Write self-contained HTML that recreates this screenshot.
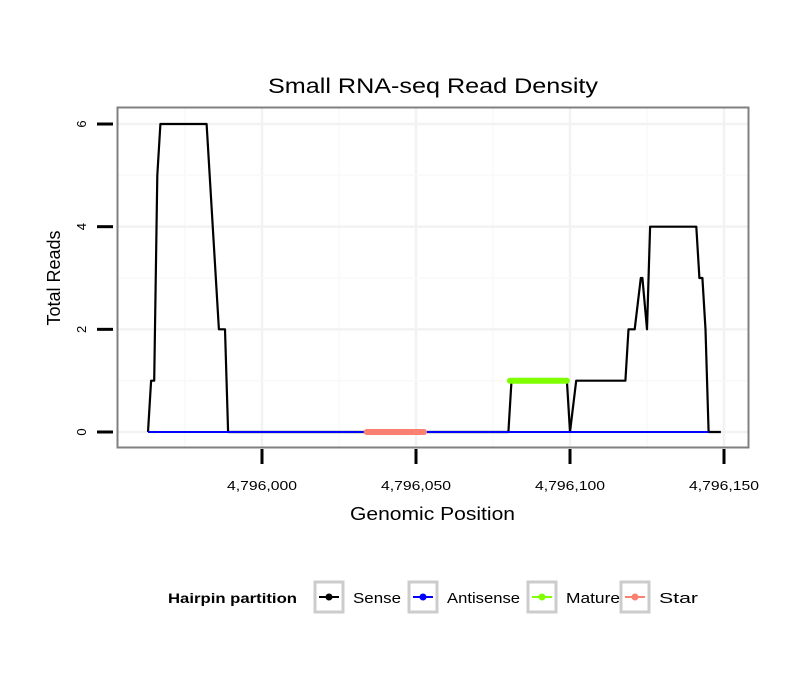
<!DOCTYPE html>
<html><head><meta charset="utf-8"><style>
body{margin:0;background:#fff;}
svg text{font-family:"Liberation Sans",sans-serif;}
</style></head><body>
<svg id="c" width="810" height="690" xmlns="http://www.w3.org/2000/svg">
<rect width="810" height="690" fill="#fff"/>
<text x="268" y="93" font-size="21" textLength="330" lengthAdjust="spacingAndGlyphs">Small RNA-seq Read Density</text>
<g id="grid"></g>
<g id="marks"></g>
<rect x="117.5" y="107.5" width="631" height="340" fill="none" stroke="#808080" stroke-width="2"/>
<g id="axes"></g>
<text x="350" y="520" font-size="18" textLength="165" lengthAdjust="spacingAndGlyphs">Genomic Position</text>
<text transform="translate(60,278) rotate(-90)" font-size="18" text-anchor="middle">Total Reads</text>
<g>
<text x="168" y="603" font-size="14" font-weight="bold" textLength="129" lengthAdjust="spacingAndGlyphs">Hairpin partition</text>
<g id="legend"></g>
</g>
</svg>
<script>
const senseX=[4795963,4795964,4795965,4795966,4795967,4795982,4795986,4795988,4795989,4796080,4796081,4796099,4796100,4796102,4796118,4796119,4796121,4796123,4796123.5,4796125,4796126,4796141,4796142,4796143,4796144,4796145,4796149];
const senseY=[0,1,1,5,6,6,2,2,0,0,1,1,0,1,1,2,2,3,3,2,4,4,3,3,2,0,0];
const antisenseX=[4795963,4796145];
const antisenseY=[0,0];
const matureX=[4796080.5,4796099];
const matureY=[1,1];
const starX=[4796034,4796052.6];
const starY=[0,0];
const xTicks=[4796000,4796050,4796100,4796150];
const xTickLabels=["4,796,000","4,796,050","4,796,100","4,796,150"];
const yTicks=[0,2,4,6];
const legendLabels=["Sense","Antisense","Mature","Star"];
const legendColors=["#000000","#0000ff","#7fff00","#fa8072"];

const NS="http://www.w3.org/2000/svg";
function sx(v){return 262+(v-4796000)*3.08;}
function sy(v){return 432-v*51.33;}
function mk(tag,attrs,parent){const e=document.createElementNS(NS,tag);for(const k in attrs)e.setAttribute(k,attrs[k]);document.getElementById(parent).appendChild(e);return e;}
for(let v=4795975;v<=4796150;v+=25){const e=mk('line',{x1:sx(v),x2:sx(v),y1:108,y2:447,stroke:(v%50===0)?'#f2f2f2':'#f9f9f9','stroke-width':(v%50===0)?2.5:1.5},'grid');

}
for(let v=0;v<=6.5;v+=1){const e=mk('line',{x1:118,x2:748,y1:sy(v),y2:sy(v),stroke:(v%2===0)?'#f2f2f2':'#f9f9f9','stroke-width':(v%2===0)?2.5:1.5},'grid');

}
function line(xs,ys,color,w,name,cap){const p=xs.map((x,i)=>sx(x).toFixed(1)+','+sy(ys[i]).toFixed(1)).join(' ');
const e=mk('polyline',{points:p,fill:'none',stroke:color,'stroke-width':w,'stroke-linejoin':'round','stroke-linecap':cap},'marks');

}
line(senseX,senseY,'#000',2.2,'sense-line','butt');
line(antisenseX,antisenseY,'#0000ff',2,'antisense-line','butt');
line(matureX,matureY,'#7fff00',6,'mature-segment','round');
line(starX,starY,'#fa8072',6,'star-segment','round');
xTicks.forEach((v,i)=>{const t=mk('line',{x1:sx(v),x2:sx(v),y1:449,y2:464,stroke:'#000','stroke-width':3},'axes');


const l=mk('text',{x:sx(v)-35,y:490,'font-size':13,textLength:70,lengthAdjust:'spacingAndGlyphs'},'axes');l.textContent=xTickLabels[i];

});
yTicks.forEach(v=>{const t=mk('line',{x1:97,x2:113,y1:sy(v),y2:sy(v),stroke:'#000','stroke-width':3},'axes');


const l=mk('text',{transform:'translate(86,'+sy(v)+') rotate(-90)','font-size':13,'text-anchor':'middle'},'axes');l.textContent=v;

});
const lx=[314,408,527,620];
const lw=[48,73,54,39];
legendLabels.forEach((lab,i)=>{const x=lx[i];
const b=mk('rect',{x:x+1,y:582,width:28,height:30,fill:'#fff',stroke:'#cccccc','stroke-width':3},'legend');


const l=mk('line',{x1:x+5,x2:x+25,y1:597,y2:597,stroke:legendColors[i],'stroke-width':2},'legend');


const c=mk('circle',{cx:x+15,cy:597,r:3.5,fill:legendColors[i]},'legend');


const t=mk('text',{x:x+39,y:603,'font-size':15,textLength:lw[i],lengthAdjust:'spacingAndGlyphs'},'legend');t.textContent=lab;

});
</script>
</body></html>
